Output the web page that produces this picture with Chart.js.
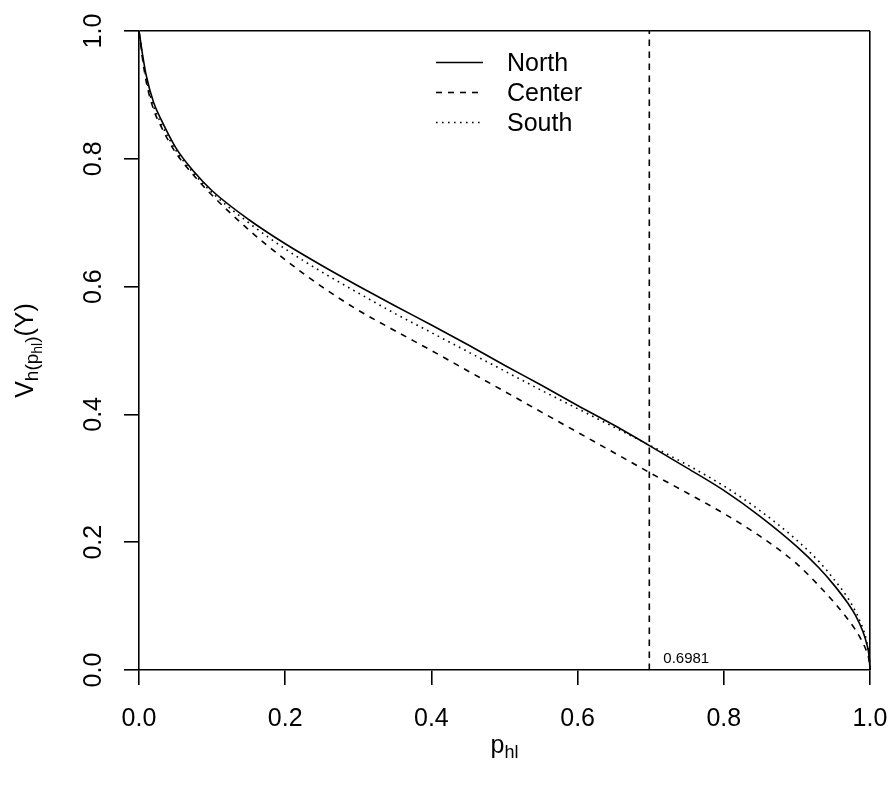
<!DOCTYPE html>
<html>
<head>
<meta charset="utf-8">
<script src="https://cdn.jsdelivr.net/npm/chart.js@4.4.1/dist/chart.umd.min.js"></script>
<style>
  html, body { margin: 0; padding: 0; background: #ffffff; }
  #wrap { width: 888px; height: 788px; }
</style>
</head>
<body>
<div id="wrap"><canvas id="c" width="888" height="788"></canvas></div>
<script>
// ---- data ----
const pValues = [0, 0.002, 0.005, 0.01, 0.02, 0.03, 0.05, 0.075, 0.1, 0.15, 0.2, 0.25, 0.3, 0.35, 0.4, 0.45, 0.5, 0.55, 0.6, 0.65, 0.7, 0.75, 0.8, 0.85, 0.9, 0.93, 0.95, 0.97, 0.98, 0.99, 0.995, 0.999, 1.0];
const northValues  = [1.0, 0.985, 0.962, 0.930, 0.888, 0.862, 0.818, 0.780, 0.750, 0.705, 0.667, 0.633, 0.601, 0.570, 0.540, 0.509, 0.477, 0.446, 0.414, 0.383, 0.350, 0.316, 0.281, 0.240, 0.193, 0.160, 0.134, 0.104, 0.086, 0.061, 0.043, 0.019, 0.0];
const centerValues = [1.0, 0.982, 0.955, 0.920, 0.877, 0.851, 0.810, 0.774, 0.743, 0.689, 0.642, 0.600, 0.563, 0.531, 0.500, 0.468, 0.436, 0.404, 0.372, 0.340, 0.308, 0.277, 0.245, 0.209, 0.166, 0.132, 0.107, 0.079, 0.063, 0.043, 0.030, 0.013, 0.0];
const southValues  = [1.0, 0.983, 0.958, 0.925, 0.882, 0.856, 0.814, 0.777, 0.747, 0.700, 0.659, 0.623, 0.590, 0.558, 0.528, 0.498, 0.468, 0.438, 0.409, 0.380, 0.351, 0.321, 0.288, 0.249, 0.203, 0.170, 0.143, 0.112, 0.092, 0.066, 0.047, 0.021, 0.0];
const seriesNames = ["North", "Center", "South"];
const cutoffValue = 0.6981;
const cutoffLabel = "0.6981";
const xTickValues = [0, 0.2, 0.4, 0.6, 0.8, 1.0];
const yTickValues = [0, 0.2, 0.4, 0.6, 0.8, 1.0];

const FONT = "'Liberation Sans', Arial, Helvetica, sans-serif";
const dashStyles = [[], [6, 6], [1.6, 4.4]];

function toPts(ys) { return pValues.map((x, i) => ({ x: x, y: ys[i] })); }

const datasets = [northValues, centerValues, southValues].map((vals, i) => ({
  label: seriesNames[i],
  data: toPts(vals),
  borderColor: '#000',
  borderWidth: 1.6,
  borderDash: dashStyles[i],
  pointRadius: 0,
  fill: false,
  cubicInterpolationMode: 'monotone',
  clip: false
}));
datasets.push({
  label: 'cutoff',
  data: [{ x: cutoffValue, y: 0 }, { x: cutoffValue, y: 1 }],
  borderColor: '#000',
  borderWidth: 1.6,
  borderDash: [6.5, 5.5],
  pointRadius: 0,
  fill: false,
  clip: false
});

const isOne = v => Math.abs(v - 1) < 1e-9;

const textPlugin = {
  id: 'rtext',
  afterDraw(chart) {
    const ctx = chart.ctx;
    const xs = chart.scales.x, ys = chart.scales.y;
    ctx.save();
    ctx.fillStyle = '#000';
    // x tick labels
    ctx.font = '25px ' + FONT;
    ctx.textAlign = 'center';
    ctx.textBaseline = 'alphabetic';
    xTickValues.forEach(v => ctx.fillText(v.toFixed(1), xs.getPixelForValue(v), 726));
    // y tick labels (rotated)
    yTickValues.forEach(v => {
      ctx.save();
      ctx.translate(101, ys.getPixelForValue(v));
      ctx.rotate(-Math.PI / 2);
      ctx.fillText(v.toFixed(1), 0, 0);
      ctx.restore();
    });
    // x title: p_hl
    {
      const cx = (chart.chartArea.left + chart.chartArea.right) / 2;
      ctx.textAlign = 'left';
      ctx.font = '25px ' + FONT;
      const w1 = ctx.measureText('p').width;
      ctx.font = '18px ' + FONT;
      const w2 = ctx.measureText('hl').width;
      const x0 = cx - (w1 + w2) / 2;
      ctx.font = '25px ' + FONT;
      ctx.fillText('p', x0, 753);
      ctx.font = '18px ' + FONT;
      ctx.fillText('hl', x0 + w1, 758);
    }
    // y title: V_{h(p_{hl})}(Y)
    {
      const parts = [
        { t: 'V', s: 25, dy: 0 },
        { t: 'h(p', s: 19, dy: 5 },
        { t: 'hl', s: 14, dy: 9 },
        { t: ')', s: 19, dy: 5 },
        { t: '(Y)', s: 25, dy: 0 }
      ];
      let total = 0;
      parts.forEach(p => { ctx.font = p.s + 'px ' + FONT; p.w = ctx.measureText(p.t).width; total += p.w; });
      const cy = (chart.chartArea.top + chart.chartArea.bottom) / 2;
      ctx.save();
      ctx.translate(33, cy);
      ctx.rotate(-Math.PI / 2);
      ctx.textAlign = 'left';
      let x = -total / 2;
      parts.forEach(p => { ctx.font = p.s + 'px ' + FONT; ctx.fillText(p.t, x, p.dy); x += p.w; });
      ctx.restore();
    }
    // cutoff label
    ctx.font = '15px ' + FONT;
    ctx.textAlign = 'left';
    ctx.fillText(cutoffLabel, xs.getPixelForValue(cutoffValue) + 14, 663);
    // legend
    const rowsBase = [71, 101, 131];
    seriesNames.forEach((name, i) => {
      const ly = rowsBase[i] - 8.5;
      ctx.save();
      ctx.strokeStyle = '#000';
      ctx.lineWidth = 1.6;
      ctx.setLineDash(dashStyles[i]);
      ctx.beginPath();
      ctx.moveTo(436, ly);
      ctx.lineTo(483, ly);
      ctx.stroke();
      ctx.restore();
      ctx.font = '25px ' + FONT;
      ctx.textAlign = 'left';
      ctx.fillText(name, 507, rowsBase[i]);
    });
    ctx.restore();
  }
};

new Chart(document.getElementById('c'), {
  type: 'line',
  data: { datasets: datasets },
  options: {
    responsive: false,
    animation: false,
    layout: { padding: { left: 0, top: 31, right: 18, bottom: 0 } },
    plugins: { legend: { display: false }, tooltip: { enabled: false } },
    scales: {
      x: {
        type: 'linear', min: 0, max: 1,
        afterBuildTicks: s => { s.ticks = xTickValues.map(v => ({ value: v })); },
        afterFit: s => { s.height = 118; },
        ticks: { display: false },
        border: { display: true, color: '#000', width: 1.6 },
        grid: {
          drawOnChartArea: true,
          color: c => (c.tick && isOne(c.tick.value)) ? '#000' : 'rgba(0,0,0,0)',
          lineWidth: 1.6,
          tickColor: '#000',
          tickWidth: 1.6,
          tickLength: 15
        }
      },
      y: {
        type: 'linear', min: 0, max: 1,
        afterBuildTicks: s => { s.ticks = yTickValues.map(v => ({ value: v })); },
        afterFit: s => { s.width = 139; },
        ticks: { display: false },
        border: { display: true, color: '#000', width: 1.6 },
        grid: {
          drawOnChartArea: true,
          color: c => (c.tick && isOne(c.tick.value)) ? '#000' : 'rgba(0,0,0,0)',
          lineWidth: 1.6,
          tickColor: '#000',
          tickWidth: 1.6,
          tickLength: 15
        }
      }
    }
  },
  plugins: [textPlugin]
});
</script>
</body>
</html>
